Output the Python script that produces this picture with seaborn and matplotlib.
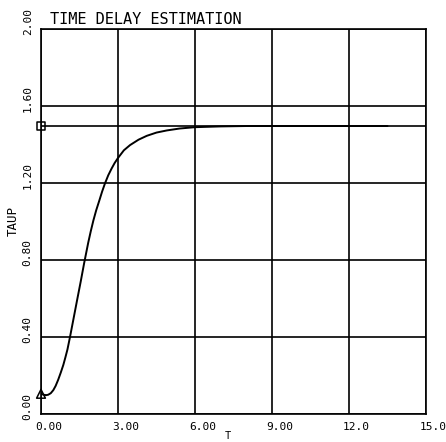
import matplotlib
matplotlib.use("Agg")
import matplotlib.pyplot as plt
import matplotlib.transforms as mtransforms
import seaborn as sns
import pandas as pd

# ---- data ----
t_vals = [0.0, 0.1, 0.2, 0.28, 0.38, 0.48, 0.57, 0.67, 0.77, 0.87, 0.95,
          1.03, 1.13, 1.26, 1.41, 1.55, 1.68, 1.84, 1.94, 2.04, 2.15, 2.27,
          2.38, 2.49, 2.62, 2.75, 2.87, 3.0, 3.23, 3.47, 3.8, 4.12, 4.5, 4.9,
          5.4, 6.0, 7.0, 8.0, 10.0, 12.0, 13.5]
taup_vals = [0.105, 0.100, 0.098, 0.100, 0.108, 0.124, 0.146, 0.178, 0.215,
             0.255, 0.294, 0.335, 0.400, 0.490, 0.594, 0.690, 0.783, 0.890,
             0.950, 1.005, 1.058, 1.108, 1.155, 1.197, 1.240, 1.275, 1.304,
             1.330, 1.370, 1.397, 1.425, 1.445, 1.462, 1.473, 1.483, 1.490,
             1.494, 1.496, 1.496, 1.496, 1.496]
ref_x = [0.0, 15.0]
ref_y = [1.496, 1.496]
start_marker_x = [0.0]
start_marker_y = [0.105]
ref_marker_x = [0.0]
ref_marker_y = [1.496]

x_ticks = [0, 3, 6, 9, 12, 15]
x_tick_labels = ["0.00", "3.00", "6.00", "9.00", "12.0", "15.0"]
y_ticks = [0.0, 0.4, 0.8, 1.2, 1.6, 2.0]
y_tick_labels = ["0.00", "0.40", "0.80", "1.20", "1.60", "2.00"]
title = "TIME DELAY ESTIMATION"
x_label = "T"
y_label = "TAUP"

# ---- plot ----
sns.set_style("white")
plt.rcParams["font.family"] = ["DejaVu Sans Mono", "DejaVu Sans"]
plt.rcParams["text.color"] = "black"
plt.rcParams["axes.labelcolor"] = "black"
plt.rcParams["xtick.color"] = "black"
plt.rcParams["ytick.color"] = "black"

fig = plt.figure(figsize=(4.46, 4.42), dpi=100)
ax = fig.add_axes([41 / 446, 1 - 414 / 442, 385 / 446, 385 / 442])

curve = pd.DataFrame({"T": t_vals, "TAUP": taup_vals})
ref = pd.DataFrame({"T": ref_x, "TAUP": ref_y})

sns.lineplot(data=ref, x="T", y="TAUP", ax=ax, color="black", lw=1.2,
             sort=False, estimator=None)
sns.lineplot(data=curve, x="T", y="TAUP", ax=ax, color="black", lw=1.4,
             sort=False, estimator=None)
sns.scatterplot(x=start_marker_x, y=start_marker_y, ax=ax, marker="^", s=40,
                facecolor="none", edgecolor="black", linewidth=1.1, zorder=5,
                clip_on=False)
sns.scatterplot(x=ref_marker_x, y=ref_marker_y, ax=ax, marker="s", s=35,
                facecolor="none", edgecolor="black", linewidth=1.1, zorder=5,
                clip_on=False)

ax.set_xlim(0, 15)
ax.set_ylim(0, 2.0)
ax.set_xticks(x_ticks)
ax.set_yticks(y_ticks)
ax.grid(True, color="black", lw=1.2)
ax.set_axisbelow(True)
for s in ax.spines.values():
    s.set_color("black")
    s.set_linewidth(1.2)

ax.tick_params(axis="both", direction="out", length=3, width=1, color="black",
               labelcolor="black", labelsize=8, pad=3)
ax.set_xticklabels(x_tick_labels, ha="left")
ax.set_yticklabels(y_tick_labels, rotation=90, va="bottom")
xoff = mtransforms.ScaledTranslation(-6 / 100, 0, fig.dpi_scale_trans)
for lab in ax.get_xticklabels():
    lab.set_transform(lab.get_transform() + xoff)
yoff = mtransforms.ScaledTranslation(0, -6 / 100, fig.dpi_scale_trans)
for lab in ax.get_yticklabels():
    lab.set_transform(lab.get_transform() + yoff)

ax.set_xlabel(x_label, fontsize=7.5)
ax.xaxis.set_label_coords((228 - 41) / 385, -0.044)
ax.set_ylabel(y_label, fontsize=9)
ax.yaxis.set_label_coords(-(41 - 20) / 385, 0.5)

fig.text(50 / 446, 1 - 12 / 442, title, fontsize=11, va="top", ha="left",
         color="black")

fig.savefig("out.png", dpi=100)
